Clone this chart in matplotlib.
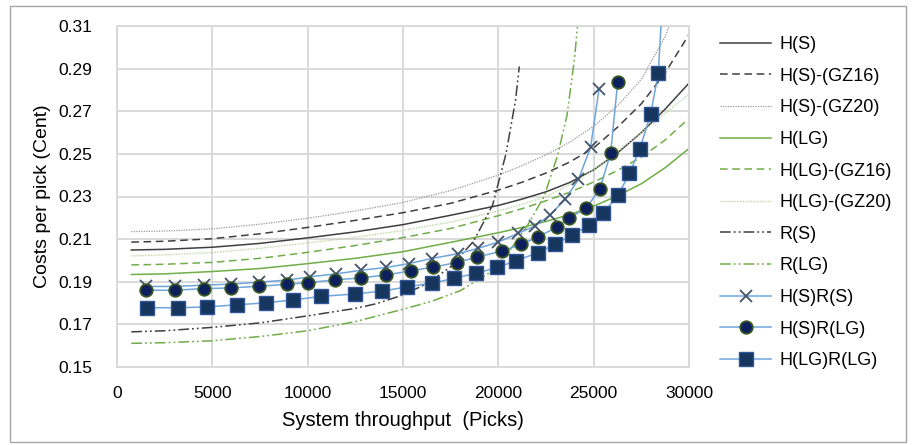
import matplotlib
matplotlib.use("Agg")
import matplotlib.pyplot as plt
from matplotlib.patches import Rectangle

plt.rcParams["font.family"] = ["Liberation Sans", "DejaVu Sans"]

# ---- data ----
x_h = [750, 2500, 5000, 7500, 10000, 12500, 15000, 17500, 20000, 21250, 22500, 23750, 25000, 26250, 27500, 28750, 30000]
h_s = [0.2049, 0.2052, 0.2062, 0.2080, 0.2106, 0.2134, 0.2168, 0.2212, 0.2258, 0.2288, 0.2322, 0.2366, 0.2425,
       0.2505, 0.2600, 0.2710, 0.2832]
h_s_gz16 = [0.2086, 0.2090, 0.2102, 0.2125, 0.2155, 0.2188, 0.2224, 0.2268, 0.2330, 0.2367, 0.2410, 0.2462, 0.2528,
            0.2625, 0.2735, 0.2880, 0.3060]
h_s_gz20 = [0.2135, 0.2138, 0.2148, 0.2170, 0.2198, 0.2232, 0.2272, 0.2328, 0.2400, 0.2445, 0.2495, 0.2555, 0.2630,
            0.2725, 0.2850, 0.3050, 0.3340]
h_lg = [0.1934, 0.1937, 0.1948, 0.1962, 0.1985, 0.2010, 0.2041, 0.2085, 0.2130, 0.2155, 0.2183, 0.2215, 0.2255,
        0.2303, 0.2360, 0.2435, 0.2525]
h_lg_gz16 = [0.1979, 0.1982, 0.1991, 0.2010, 0.2038, 0.2070, 0.2107, 0.2150, 0.2210, 0.2243, 0.2280, 0.2320, 0.2368,
             0.2422, 0.2485, 0.2565, 0.2667]
h_lg_gz20 = [0.2021, 0.2026, 0.2037, 0.2057, 0.2082, 0.2108, 0.2141, 0.2180, 0.2232, 0.2263, 0.2300, 0.2355, 0.2425,
             0.2510, 0.2600, 0.2690, 0.2780]

x_r_s = [750, 2500, 5000, 7500, 10000, 12500, 13600, 15000, 16300, 17500, 18700, 19700, 20400, 20900, 21100]
r_s = [0.1665, 0.1670, 0.1686, 0.1707, 0.1740, 0.1775, 0.1797, 0.1838, 0.1893, 0.1970, 0.2090, 0.2260, 0.2500,
       0.2750, 0.2910]

x_r_lg = [750, 2500, 5000, 7500, 10000, 12500, 15000, 16500, 18000, 19500, 20500, 21500, 22400, 23100, 23600, 24000, 24200]
r_lg = [0.1611, 0.1614, 0.1623, 0.1643, 0.1670, 0.1713, 0.1771, 0.1808, 0.1858, 0.1940, 0.2035, 0.2160, 0.2300,
        0.2490, 0.2680, 0.2950, 0.3150]

x_hs_rs = [1521, 3042, 4547, 5995, 7448, 8916, 10100, 11500, 12800, 14120, 15300, 16500, 17900, 18950,
           20000, 21020, 21920, 22710, 23500, 24200, 24840, 25280]
hs_rs = [0.1878, 0.1878, 0.1884, 0.1889, 0.1898, 0.1908, 0.1923, 0.1937, 0.1954, 0.1967, 0.1985, 0.2009,
         0.2032, 0.2057, 0.2086, 0.2127, 0.2161, 0.2213, 0.2286, 0.2380, 0.2531, 0.2805]

x_hs_rlg = [1521, 3042, 4547, 5995, 7448, 8916, 10030, 11430, 12800, 14120, 15400, 16590, 17820, 18900,
            20180, 21190, 22070, 23060, 23720, 24600, 25330, 25890, 26260]
hs_rlg = [0.1860, 0.1860, 0.1868, 0.1871, 0.1879, 0.1888, 0.1896, 0.1909, 0.1918, 0.1932, 0.1951, 0.1969,
          0.1990, 0.2016, 0.2044, 0.2075, 0.2110, 0.2156, 0.2200, 0.2244, 0.2337, 0.2504, 0.2837]

x_hlg_rlg = [1590, 3210, 4740, 6280, 7800, 9250, 10700, 12500, 13920, 15200, 16500, 17690, 18830, 19950,
             20930, 22100, 22970, 23850, 24770, 25510, 26290, 26870, 27430, 27990, 28390, 28700]
hlg_rlg = [0.1778, 0.1778, 0.1782, 0.1792, 0.1801, 0.1815, 0.1831, 0.1843, 0.1856, 0.1876, 0.1893, 0.1916,
           0.1940, 0.1967, 0.1999, 0.2037, 0.2075, 0.2118, 0.2166, 0.2224, 0.2306, 0.2408, 0.2525, 0.2688,
           0.2879, 0.3370]

x_ticks = [0, 5000, 10000, 15000, 20000, 25000, 30000]
y_ticks = [0.15, 0.17, 0.19, 0.21, 0.23, 0.25, 0.27, 0.29, 0.31]

BLACK = "#3f3f3f"
GRAY = "#9a9a9a"
GREEN = "#70ad47"
LIGHT_GREEN = "#b9d9a0"
BLUE = "#6ea6dc"

W, H = 917, 445
fig = plt.figure(figsize=(W / 100, H / 100), dpi=100)
ax = fig.add_axes([117 / W, 1 - 367 / H, (689 - 117) / W, (367 - 26) / H])

ax.plot(x_h, h_s, color=BLACK, lw=1.1, label="H(S)")
ax.plot(x_h, h_s_gz16, color=BLACK, lw=1.1, ls=(0, (5, 3)), label="H(S)-(GZ16)")
ax.plot(x_h, h_s_gz20, color=GRAY, lw=0.9, ls=(0, (1, 1)), label="H(S)-(GZ20)")
ax.plot(x_h, h_lg, color=GREEN, lw=1.1, label="H(LG)")
ax.plot(x_h, h_lg_gz16, color=GREEN, lw=1.1, ls=(0, (5, 3)), label="H(LG)-(GZ16)")
ax.plot(x_h, h_lg_gz20, color=LIGHT_GREEN, lw=1.0, ls=(0, (1, 1)), label="H(LG)-(GZ20)")
ax.plot(x_r_s, r_s, color=BLACK, lw=1.1, ls=(0, (7, 2, 1.2, 2, 1.2, 2)), label="R(S)")
ax.plot(x_r_lg, r_lg, color=GREEN, lw=1.1, ls=(0, (7, 2, 1.2, 2, 1.2, 2)), label="R(LG)")

ax.plot(x_hs_rs, hs_rs, color=BLUE, lw=1.1, marker="x", ms=8.5, mew=1.3, mec="#44546a",
        label="H(S)R(S)", zorder=4)
ax.plot(x_hs_rlg, hs_rlg, color=BLUE, lw=1.1, marker="o", ms=9, mew=1.3, mfc="#0d1f5c", mec="#375623",
        label="H(S)R(LG)", zorder=5)
ax.plot(x_hlg_rlg, hlg_rlg, color=BLUE, lw=1.1, marker="s", ms=9.5, mew=1.0, mfc="#17365d", mec="#2f5597",
        label="H(LG)R(LG)", zorder=5)

ax.set_xlim(0, 30000)
ax.set_ylim(0.15, 0.31)
ax.set_xticks(x_ticks)
ax.set_xticklabels([str(t) for t in x_ticks])
ax.set_yticks(y_ticks)
ax.set_yticklabels([f"{t:.2f}" for t in y_ticks])
ax.tick_params(length=0, labelsize=12.5, colors="#000000")
ax.tick_params(axis="y", pad=18)
ax.tick_params(axis="x", pad=14)
ax.grid(True, color="#d9d9d9", lw=1.4)
ax.set_axisbelow(True)
for s in ax.spines.values():
    s.set_color("#d9d9d9")
    s.set_linewidth(1.4)

ax.set_xlabel("System throughput  (Picks)", fontsize=14.5, labelpad=7)
ax.set_ylabel("Costs per pick (Cent)", fontsize=14, labelpad=5)

fig.legend(*ax.get_legend_handles_labels(), loc="upper left",
           bbox_to_anchor=(720 / W, 1 - 36 / H), frameon=False, fontsize=13,
           handlelength=2.85, handletextpad=0.45, labelspacing=0.81,
           borderpad=0, borderaxespad=0)

fig.add_artist(Rectangle((10 / W, 1 - 442 / H), (906 - 10) / W, (442 - 6) / H,
                         transform=fig.transFigure, fill=False, ec="#a6a6a6", lw=1))

plt.savefig("out.png", dpi=100)
plt.close()
